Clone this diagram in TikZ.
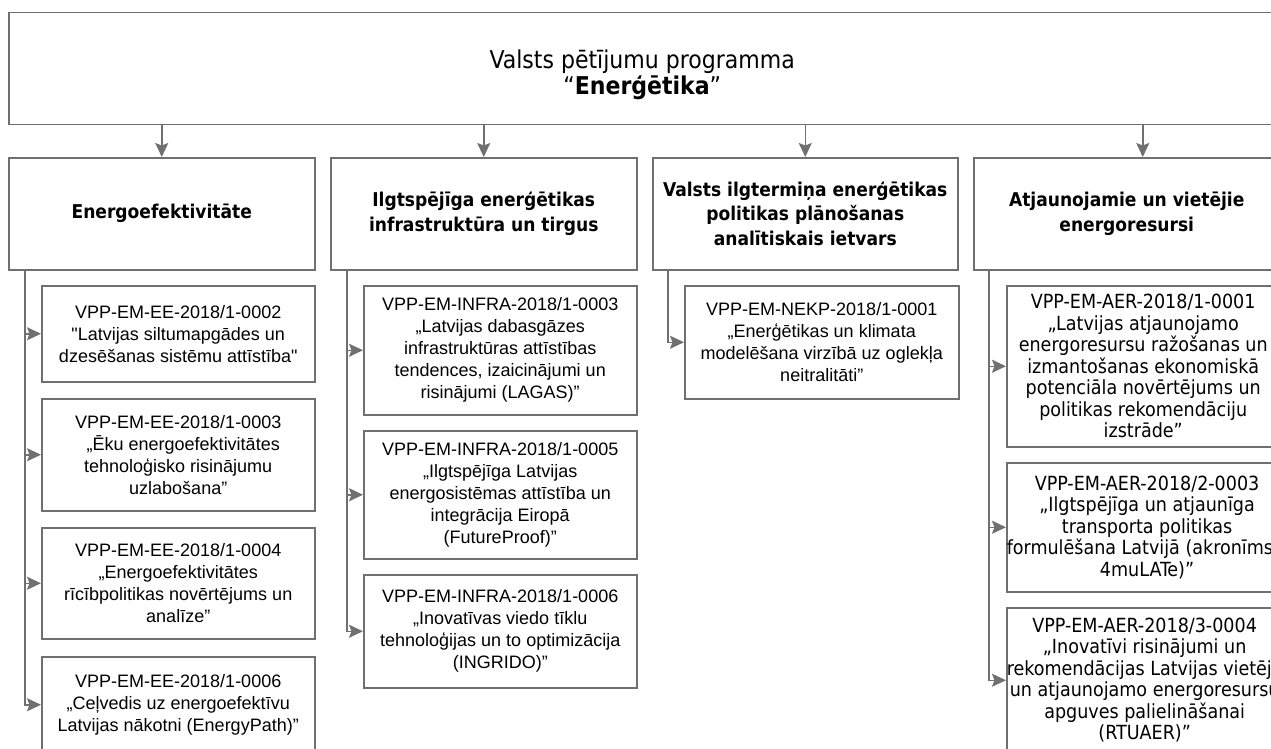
\documentclass[tikz,border=0pt]{standalone}
\usepackage{fontspec}
\newfontfamily\arl{Liberation Sans}
\newfontfamily\tah{DejaVu Sans Condensed}
\usetikzlibrary{arrows.meta}
\definecolor{ln}{RGB}{112,112,112}
\tikzset{
  box/.style={draw=ln, line width=1.5pt, fill=white, inner sep=0pt, align=center, anchor=north west},
  toptext/.style={align=center, inner sep=0pt, font=\tah\fontsize{24.5}{26}\selectfont},
  catbox/.style={box, minimum height=112pt, font=\tah\bfseries\fontsize{19}{24.5}\selectfont},
  leaf/.style={box, minimum width=273pt, font=\arl\fontsize{18}{22}\selectfont},
  leaft/.style={box, minimum width=273pt, font=\tah\fontsize{19.5}{21.5}\selectfont},
  conn/.style={draw=ln, line width=1.5pt, -{Stealth[length=14pt,width=13pt,inset=2.5pt]}}
}
\begin{document}
\begin{tikzpicture}[x=1pt,y=-1pt]
\clip (0,0) rectangle (1271,749);
\fill[white] (0,0) rectangle (1271,749);
% top
\node[box, minimum width=1267pt, minimum height=112pt] (top) at (8,12) {};
\node[toptext] (title) at ([yshift=-6pt]top.center) {Valsts pētījumu programma\\“\textbf{Enerģētika}”};
% categories
\node[catbox, minimum width=306pt] (c1) at (8,157) {Energoefektivitāte};
\node[catbox, minimum width=306pt] (c2) at (330,157) {Ilgtspējīga enerģētikas\\infrastruktūra un tirgus};
\node[catbox, minimum width=305pt] (c3) at (652,157) {Valsts ilgtermiņa enerģētikas\\politikas plānošanas\\analītiskais ietvars};
\node[catbox, minimum width=306pt] (c4) at (973,157) {Atjaunojamie un vietējie\\energoresursi};
% top arrows
\coordinate (c4in) at ([xshift=16pt]c4.north);
\draw[conn] (top.south -| c1.north) -- (c1.north);
\draw[conn] (top.south -| c2.north) -- (c2.north);
\draw[conn] (top.south -| c3.north) -- (c3.north);
\draw[conn] (top.south -| c4in) -- (c4in);
% leaves column 1
\node[leaf, minimum height=96pt] (e1) at (41,285) {VPP-EM-EE-2018/1-0002\\"Latvijas siltumapgādes un\\dzesēšanas sistēmu attīstība"};
\node[leaf, minimum height=112pt] (e2) at (41,398) {VPP-EM-EE-2018/1-0003\\\ \ „Ēku energoefektivitātes\\tehnoloģisko risinājumu\\uzlabošana”};
\node[leaf, minimum height=111pt] (e3) at (41,527) {VPP-EM-EE-2018/1-0004\\„Energoefektivitātes\\rīcībpolitikas novērtējums un\\analīze”};
\node[leaf, minimum height=96pt] (e4) at (41,656) {VPP-EM-EE-2018/1-0006\\„Ceļvedis uz energoefektīvu\\Latvijas nākotni (EnergyPath)”};
% leaves column 2
\node[leaf, minimum height=129pt] (i1) at (363,285) {VPP-EM-INFRA-2018/1-0003\\„Latvijas dabasgāzes\\infrastruktūras attīstības\\tendences, izaicinājumi un\\risinājumi (LAGAS)”};
\node[leaf, minimum height=128pt] (i2) at (363,430) {VPP-EM-INFRA-2018/1-0005\\„Ilgtspējīga Latvijas\\energosistēmas attīstība un\\integrācija Eiropā\\(FutureProof)”};
\node[leaf, minimum height=113pt] (i3) at (363,574) {VPP-EM-INFRA-2018/1-0006\\„Inovatīvas viedo tīklu\\tehnoloģijas un to optimizācija\\(INGRIDO)”};
% leaf column 3
\node[leaf, minimum width=274pt, minimum height=113pt] (n1) at (684,285) {VPP-EM-NEKP-2018/1-0001\\„Enerģētikas un klimata\\modelēšana virzībā uz oglekļa\\neitralitāti”};
% leaves column 4
\node[leaft, minimum height=161pt] (a1) at (1006,285) {VPP-EM-AER-2018/1-0001\\„Latvijas atjaunojamo\\energoresursu ražošanas un\\izmantošanas ekonomiskā\\potenciāla novērtējums un\\politikas rekomendāciju\\izstrāde”};
\node[leaft, minimum height=129pt] (a2) at (1006,462) {VPP-EM-AER-2018/2-0003\\„Ilgtspējīga un atjaunīga\\transporta politikas\\formulēšana Latvijā (akronīms –\\4muLATe)”};
\node[leaft, minimum height=145pt] (a3) at (1006,607) {VPP-EM-AER-2018/3-0004\\„Inovatīvi risinājumi un\\rekomendācijas Latvijas vietējo\\un atjaunojamo energoresursu\\apguves palielināšanai\\(RTUAER)”};
% trunks
\coordinate (t1) at ([xshift=17pt]c1.south west);
\coordinate (t2) at ([xshift=17pt]c2.south west);
\coordinate (t3) at ([xshift=16pt]c3.south west);
\coordinate (t4) at ([xshift=16pt]c4.south west);
\foreach \l in {e1,e2,e3,e4} \draw[conn] (t1) |- (\l.west);
\foreach \l in {i1,i2,i3} \draw[conn] (t2) |- (\l.west);
\draw[conn] (t3) |- (n1.west);
\foreach \l in {a1,a2,a3} \draw[conn] (t4) |- (\l.west);
\end{tikzpicture}
\end{document}
